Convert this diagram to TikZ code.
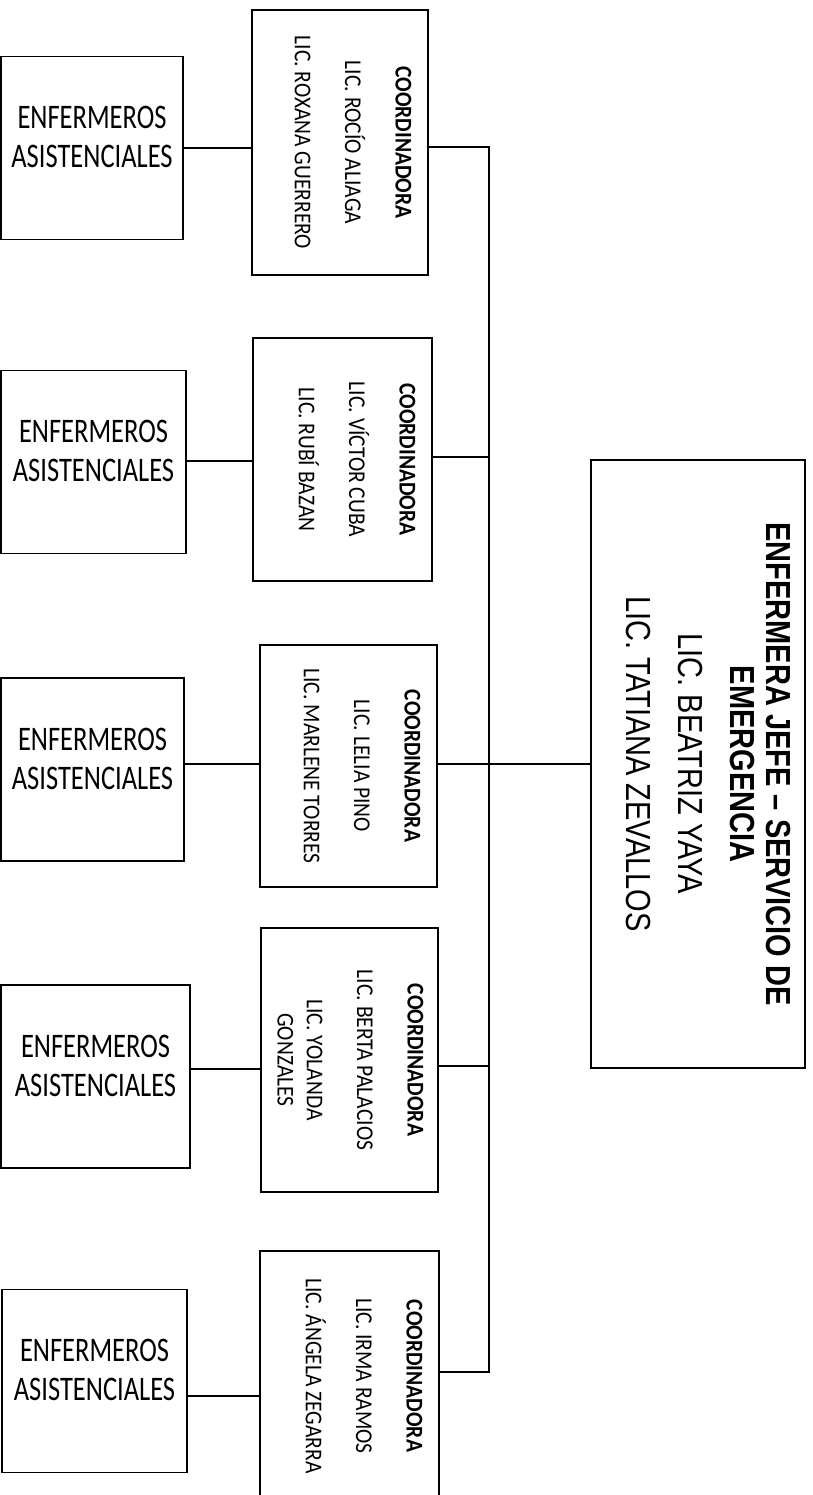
\documentclass[tikz,border=0pt]{standalone}
\usepackage{fontspec}
\setmainfont{Carlito}
\newfontfamily\arialfont{Liberation Sans}
\usetikzlibrary{calc}

\tikzset{
	enfbox/.style={draw, line width=1.5pt, minimum height=183pt, inner sep=0pt},
	coordbox/.style={draw, line width=1.3pt, inner sep=0pt},
	enftext/.style={align=center, inner sep=0pt, yscale=1.3, font=\fontsize{26.5}{30}\selectfont},
	coordtext/.style={align=center, inner sep=0pt, rotate=-90, yscale=1.12, anchor=north, font=\fontsize{21.5}{26}\selectfont},
	headtext/.style={align=center, inner sep=0pt, rotate=-90, yscale=1.2, anchor=north, font=\arialfont\fontsize{29}{30}\selectfont},
	link/.style={line width=2.2pt},
}

\begin{document}
\begin{tikzpicture}[x=1pt, y=-1pt]
		%%%%% START %%%%%
		\path[use as bounding box, clip] (0,0) rectangle (813,1495);
		
		% enfermeros asistenciales
		\node[enfbox, minimum width=182pt] (enf1) at (92, 148) {};
		\node[enfbox, minimum width=185pt] (enf2) at (93.5, 462) {};
		\node[enfbox, minimum width=183pt] (enf3) at (92.5, 769.5) {};
		\node[enfbox, minimum width=189pt] (enf4) at (95.5, 1076.5) {};
		\node[enfbox, minimum width=185pt] (enf5) at (94.5, 1381) {};
		
		\node[enftext] (enf1t) at ([yshift=11pt]enf1.center) {ENFERMEROS\\ASISTENCIALES};
		\node[enftext] (enf2t) at ([yshift=11pt]enf2.center) {ENFERMEROS\\ASISTENCIALES};
		\node[enftext] (enf3t) at ([yshift=11pt]enf3.center) {ENFERMEROS\\ASISTENCIALES};
		\node[enftext] (enf4t) at ([yshift=11pt]enf4.center) {ENFERMEROS\\ASISTENCIALES};
		\node[enftext] (enf5t) at ([yshift=11pt]enf5.center) {ENFERMEROS\\ASISTENCIALES};
		
		% coordinadoras
		\node[coordbox, minimum width=176pt, minimum height=265pt] (c1) at (340, 142.5) {};
		\node[coordtext] (c1t) at ([xshift=-17pt]c1.east) {\textbf{COORDINADORA}\\[19pt]LIC. ROCÍO ALIAGA\\[19pt]LIC. ROXANA GUERRERO};
		
		\node[coordbox, minimum width=179pt, minimum height=243pt] (c2) at (342.5, 459.5) {};
		\node[coordtext] (c2t) at ([xshift=-17pt]c2.east) {\textbf{COORDINADORA}\\[19pt]LIC. VÍCTOR CUBA\\[19pt]LIC. RUBÍ BAZAN};
		
		\node[coordbox, minimum width=177pt, minimum height=242pt] (c3) at (348.5, 766) {};
		\node[coordtext] (c3t) at ([xshift=-17pt]c3.east) {\textbf{COORDINADORA}\\[19pt]LIC. LELIA PINO\\[19pt]LIC. MARLENE TORRES};
		
		\node[coordbox, minimum width=177pt, minimum height=264pt] (c4) at (349.5, 1060) {};
		\node[coordtext] (c4t) at ([xshift=-15pt]c4.east) {\textbf{COORDINADORA}\\[19pt]LIC. BERTA PALACIOS\\[19pt]LIC. YOLANDA\\GONZALES};
		
		\node[coordbox, minimum width=179pt, minimum height=250pt] (c5) at (349.5, 1376) {};
		\node[coordtext] (c5t) at ([xshift=-17pt]c5.east) {\textbf{COORDINADORA}\\[19pt]LIC. IRMA RAMOS\\[19pt]LIC. ÁNGELA ZEGARRA};
		
		% jefe
		\node[coordbox, minimum width=214pt, minimum height=608pt] (head) at (698, 764) {};
		\node[headtext] (headt) at ([xshift=-15pt]head.east) {\textbf{ENFERMERA JEFE – SERVICIO DE}\\\textbf{EMERGENCIA}\\[13pt]LIC. BEATRIZ YAYA\\[13pt]LIC. TATIANA ZEVALLOS};
		
		% lineas
		\coordinate (bus) at (489, 764);
		
		\draw[link] (enf1.east) -- (enf1.east -| c1.west);
		\draw[link] ([yshift=1pt]enf2.east) -- ([yshift=1pt]enf2.east -| c2.west);
		\draw[link] ([yshift=5.5pt]enf3.east) -- ([yshift=5.5pt]enf3.east -| c3.west);
		\draw[link] ([yshift=7.5pt]enf4.east) -- ([yshift=7.5pt]enf4.east -| c4.west);
		\draw[link] ([yshift=-15pt]enf5.east) -- ([yshift=-15pt]enf5.east -| c5.west);
		
		\draw[link] ([yshift=-4.5pt]c1.east) -| (bus) |- ([yshift=4pt]c5.east);
		\draw[link] ([yshift=2.5pt]c2.east) -- ([yshift=2.5pt]c2.east -| bus);
		\draw[link] ([yshift=-6pt]c4.east) -- ([yshift=-6pt]c4.east -| bus);
		\draw[link] (head.west) -- (head.west -| c3.east);
		
		%%%%% END %%%%%
\end{tikzpicture}
\end{document}
